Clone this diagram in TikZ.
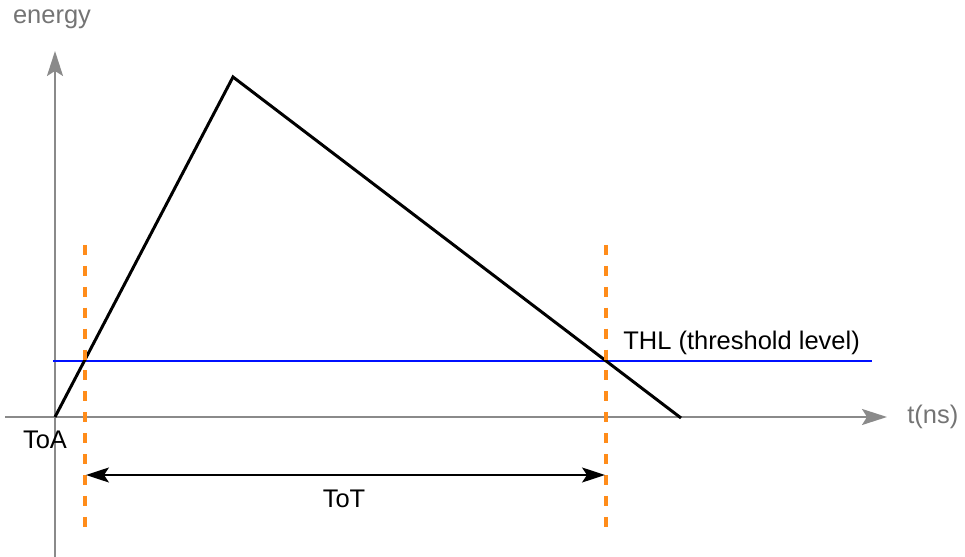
\documentclass[tikz,border=0pt]{standalone}
\usepackage{fontspec}
\setmainfont{Liberation Sans}
\usetikzlibrary{arrows.meta,positioning}
\definecolor{axisgray}{HTML}{8A8A8A}
\definecolor{txtgray}{HTML}{747474}
\definecolor{cutorange}{HTML}{FF8C1A}
\definecolor{thlblue}{HTML}{0010FF}

\begin{document}
\begin{tikzpicture}[
      x=0.02cm,y=-0.02cm,
      >={Stealth[length=0.46cm,width=0.3cm,inset=0.1cm]},
      axisline/.style={draw=axisgray,line width=1.1pt,
        -{Stealth[length=0.5cm,width=0.32cm,inset=0.1cm]}},
      txt/.style={font=\fontsize{14.5}{17}\selectfont,inner sep=0pt},
      cutline/.style={draw=cutorange,line width=2.7pt,dash pattern=on 5.7pt off 6.2pt},
      pulse/.style={draw=black,line width=1.7pt,line join=miter}
    ]
      \useasboundingbox (0,0) rectangle (965,557);
      % axes
      \coordinate (O) at (55,417);
      \coordinate (ybot) at (55,557);
      \coordinate (ytop) at (55,51);
      \coordinate (xleft) at (5,417);
      \coordinate (xright) at (887,417);
      \draw[axisline] (ybot) -- (ytop);
      \draw[axisline] (xleft) -- (xright);
      \node[txt,text=txtgray] (energy) at (52,19) {energy};
      \node[txt,text=txtgray,anchor=west] (time) at (907,417) {t(ns)};
      % threshold
      \coordinate (thlA) at (53,361);
      \coordinate (thlB) at (872,361);
      \draw[thlblue,line width=1.5pt] (thlA) -- (thlB);
      \node[txt,anchor=base west] (thl) at (623,350) {THL (threshold level)};
      % pulse
      \coordinate (peak) at (233,77);
      \coordinate (tail) at (681,418);
      \draw[pulse] (O) -- (peak) -- (tail);
      % crossings
      \coordinate (toaTop) at (85,245);
      \coordinate (toaBot) at (85,534);
      \coordinate (totTop) at (606,245);
      \coordinate (totBot) at (606,534);
      \draw[cutline] (toaTop) -- (toaBot);
      \draw[cutline] (totTop) -- (totBot);
      \node[txt] (toa) at (45,440) {ToA};
      % width
      \coordinate (totA) at (86,475);
      \coordinate (totB) at (605,475);
      \coordinate (totMid) at (344,475);
      \draw[<->,line width=1.1pt] (totA) -- (totB);
      \node[txt,below=0.3cm of totMid] (tot) {ToT};
    \end{tikzpicture}
\end{document}
